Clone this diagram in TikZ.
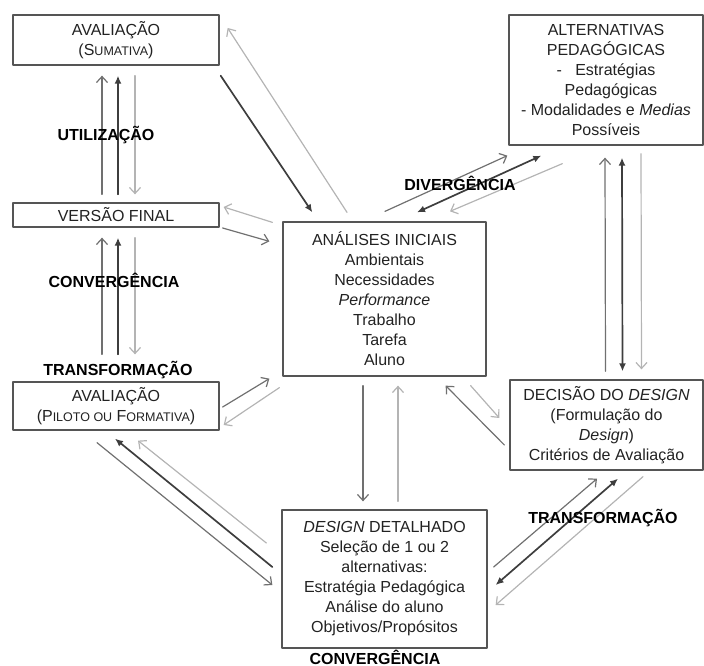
\documentclass[tikz,border=0pt]{standalone}
\usepackage{fontspec}
\setmainfont{Liberation Sans}
\usetikzlibrary{arrows.meta}
\definecolor{boxline}{HTML}{555555}
\definecolor{txt}{HTML}{222222}
\definecolor{arrmid}{HTML}{707070}
\definecolor{arrdark}{HTML}{3E3E3E}
\definecolor{arrlight}{HTML}{B4B4B4}
\newcommand\smc[1]{{\fontsize{12.5}{20}\selectfont #1}}
\begin{document}
\begin{tikzpicture}[x=1pt,y=-1pt,line join=round,line cap=round,
  box/.style={draw=boxline,line width=1.3pt,align=center,inner sep=0pt,text=txt,font=\fontsize{16}{20}\selectfont},
  lbl/.style={font=\fontsize{16}{20}\selectfont\bfseries,text=black},
  mid/.style={draw=arrmid,line width=1.2pt,-{Straight Barb[length=6pt,width=11pt]}},
  dark/.style={draw=arrdark,line width=1.7pt,-{Latex[length=8pt,width=7pt]}},
  light/.style={draw=arrlight,line width=1.2pt,-{Straight Barb[length=6pt,width=11pt]}}]
  \useasboundingbox (0,0) rectangle (704,666);
  % boxes
  \node[box,minimum width=206pt,minimum height=50pt] (sum) at (116,40) {AVALIAÇÃO\\(S\smc{UMATIVA})};
  \node[box,minimum width=206pt,minimum height=24pt] (final) at (116,215) {VERSÃO FINAL};
  \node[box,minimum width=206pt,minimum height=48pt] (piloto) at (116,406) {AVALIAÇÃO\\(P\smc{ILOTO OU} F\smc{ORMATIVA})};
  \node[box,minimum width=203pt,minimum height=154pt] (analises) at (384.5,299) {ANÁLISES INICIAIS\\Ambientais\\Necessidades\\\textit{Performance}\\Trabalho\\Tarefa\\Aluno};
  \node[box,minimum width=194pt,minimum height=130pt] (alt) at (606,80) {ALTERNATIVAS\\PEDAGÓGICAS\\-\ \ \ Estratégias\\\hspace*{10pt}Pedagógicas\\- Modalidades e \textit{Medias}\\Possíveis};
  \node[box,minimum width=193pt,minimum height=90pt] (decisao) at (606.5,425) {DECISÃO DO \textit{DESIGN}\\(Formulação do\\\textit{Design})\\Critérios de Avaliação};
  \node[box,minimum width=205pt,minimum height=138pt] (detal) at (384.5,579) {\textit{DESIGN} DETALHADO\\Seleção de 1 ou 2\\alternativas:\\Estratégia Pedagógica\\Análise do aluno\\Objetivos/Propósitos};
  % vertical triples on the left
  \foreach \a/\b/\t in {sum/final/8, final/piloto/27}{
    \draw[mid] ([shift={(-14,-\t)}]\b.north) -- ([shift={(-14,10)}]\a.south);
    \draw[dark] ([shift={(2,-\t)}]\b.north) -- ([shift={(2,10)}]\a.south);
    \draw[light] ([shift={(19,10)}]\a.south) -- ([shift={(19,-\t)}]\b.north);
  }
  % left boxes and the initial analysis
  \draw[dark] ([shift={(1,10)}]sum.south east) -- ([shift={(30,-9)}]analises.north west);
  \draw[light] ([shift={(-37.5,-9)}]analises.north) -- ([shift={(8,-12)}]sum.east);
  \draw[light] ([shift={(-10,1)}]analises.north west) -- ([shift={(4,-8)}]final.east);
  \draw[mid] ([shift={(3,13)}]final.east) -- ([shift={(-13,20)}]analises.north west);
  \draw[mid] ([shift={(3,1)}]piloto.east) -- ([shift={(-13,2)}]analises.south west);
  \draw[light] ([shift={(-3,11)}]analises.south west) -- ([shift={(4,19)}]piloto.east);
  % pilot evaluation and detailed design
  \draw[mid] ([shift={(-19,12)}]piloto.south) -- ([shift={(-9,6)}]detal.west);
  \draw[dark] ([shift={(-9,-12)}]detal.west) -- ([shift={(-1,8)}]piloto.south);
  \draw[light] ([shift={(-15,-36)}]detal.west) -- ([shift={(22,10)}]piloto.south);
  % initial analysis and detailed design
  \draw[mid] ([shift={(-21.5,9)}]analises.south) -- ([shift={(-21.5,-8)}]detal.north);
  \draw[light] ([shift={(13.5,-8)}]detal.north) -- ([shift={(13.5,9)}]analises.south);
  % initial analysis and design decision
  \draw[mid] ([shift={(-5,20)}]decisao.west) -- ([shift={(-41,9)}]analises.south east);
  \draw[light] ([shift={(-16,9)}]analises.south east) -- ([shift={(-10,-7)}]decisao.west);
  % divergence
  \draw[mid] ([shift={(0.5,-10)}]analises.north) -- ([shift={(-1,10)}]alt.south west);
  \draw[dark,{Latex[length=8pt,width=7pt]}-{Latex[length=8pt,width=7pt]}] ([shift={(32.5,-9)}]analises.north) -- ([shift={(33,10)}]alt.south west);
  \draw[light] ([shift={(54,18)}]alt.south west) -- ([shift={(65.5,-10)}]analises.north);
  % alternatives and design decision
  \draw[mid] ([shift={(-1,-8)}]decisao.north) -- ([shift={(-1,12)}]alt.south);
  \draw[dark,{Latex[length=8pt,width=7pt]}-{Latex[length=8pt,width=7pt]}] ([shift={(16,-8)}]decisao.north) -- ([shift={(16,12)}]alt.south);
  \draw[light] ([shift={(35,8)}]alt.south) -- ([shift={(35,-10)}]decisao.north);
  % design decision and detailed design
  \draw[mid] ([shift={(6,-12)}]detal.east) -- ([shift={(-9.5,8)}]decisao.south);
  \draw[dark,{Latex[length=8pt,width=7pt]}-{Latex[length=8pt,width=7pt]}] ([shift={(8,6)}]detal.east) -- ([shift={(11.5,8)}]decisao.south);
  \draw[light] ([shift={(36.5,6)}]decisao.south) -- ([shift={(8,26)}]detal.east);
  % labels
  \node[lbl] (lbUtil) at (106,135) {UTILIZAÇÃO};
  \node[lbl] (lbConv) at (114,280) {CONVERGÊNCIA};
  \node[lbl] (lbTrans) at (118,370) {TRANSFORMAÇÃO};
  \node[lbl] (lbDiv) at (460,183) {DIVERGÊNCIA};
  \node[lbl] (lbTransR) at (603,518) {TRANSFORMAÇÃO};
  \node[lbl] (lbConvB) at (375,657) {CONVERGÊNCIA};
\end{tikzpicture}
\end{document}
